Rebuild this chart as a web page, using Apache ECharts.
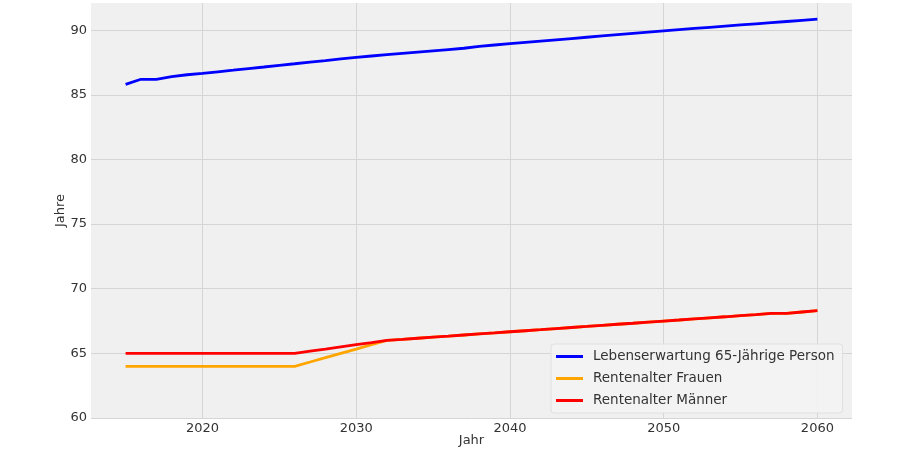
<!DOCTYPE html>
<html>
<head>
<meta charset="utf-8">
<script src="https://cdn.jsdelivr.net/npm/echarts@6/dist/echarts.min.js"></script>
<style>
  html, body { margin: 0; padding: 0; background: #fff; }
  #chart { width: 900px; height: 451px; }
</style>
</head>
<body>
<div id="chart"></div>
<script>
// years 2015 .. 2060
const years = [];
for (let y = 2015; y <= 2060; y++) years.push(y);

const lebenserwartung = [
  85.8, 86.2, 86.2, 86.4, 86.55, 86.65, 86.78, 86.9, 87.03, 87.15,
  87.28, 87.4, 87.53, 87.65, 87.78, 87.9, 88.0, 88.1, 88.2, 88.3,
  88.4, 88.5, 88.6, 88.75, 88.85, 88.95, 89.05, 89.15, 89.25, 89.35,
  89.45, 89.55, 89.65, 89.75, 89.85, 89.95, 90.04, 90.13, 90.22, 90.31,
  90.4, 90.49, 90.58, 90.67, 90.76, 90.85
];
const rentenalterFrauen = [
  64, 64, 64, 64, 64, 64, 64, 64, 64, 64,
  64, 64, 64.33, 64.67, 65.0, 65.33, 65.67, 66.0, 66.08, 66.17,
  66.25, 66.33, 66.42, 66.5, 66.58, 66.67, 66.75, 66.83, 66.92, 67.0,
  67.08, 67.17, 67.25, 67.33, 67.42, 67.5, 67.58, 67.67, 67.75, 67.83,
  67.92, 68.0, 68.1, 68.1, 68.2, 68.3
];
const rentenalterMaenner = [
  65, 65, 65, 65, 65, 65, 65, 65, 65, 65,
  65, 65, 65.17, 65.33, 65.5, 65.67, 65.83, 66.0, 66.08, 66.17,
  66.25, 66.33, 66.42, 66.5, 66.58, 66.67, 66.75, 66.83, 66.92, 67.0,
  67.08, 67.17, 67.25, 67.33, 67.42, 67.5, 67.58, 67.67, 67.75, 67.83,
  67.92, 68.0, 68.1, 68.1, 68.2, 68.3
];

const xTicks = [2020, 2030, 2040, 2050, 2060];
const yTicks = [60, 65, 70, 75, 80, 85, 90];

const font = 'DejaVu Sans';
const pairs = arr => years.map((y, i) => [y, arr[i]]);

const chart = echarts.init(document.getElementById('chart'));

chart.setOption({
  backgroundColor: '#ffffff',
  animation: false,
  textStyle: { fontFamily: font },
  grid: {
    left: 91, right: 48, top: 3, bottom: 33,
    outerBoundsMode: 'none', containLabel: false,
    show: true, backgroundColor: '#f0f0f0', borderWidth: 0
  },
  xAxis: {
    type: 'value',
    min: 2012.75, max: 2062.25,
    name: 'Jahr', nameLocation: 'middle', nameGap: 16, nameMoveOverlap: false,
    nameTextStyle: { fontFamily: font, fontSize: 13, color: '#333' },
    axisLine: { show: false },
    axisTick: { show: false, customValues: xTicks },
    axisLabel: {
      customValues: xTicks, fontFamily: font, fontSize: 13, color: '#333', margin: 4,
      formatter: v => String(v)
    },
    splitLine: { show: true, lineStyle: { color: '#d5d5d5', width: 1 } }
  },
  yAxis: {
    type: 'value',
    min: 60, max: 92.1,
    name: 'Jahre', nameLocation: 'middle', nameGap: 24, nameRotate: 90, nameMoveOverlap: false,
    nameTextStyle: { fontFamily: font, fontSize: 13, color: '#333' },
    axisLine: { show: false },
    axisTick: { show: false, customValues: yTicks },
    axisLabel: {
      customValues: yTicks, fontFamily: font, fontSize: 13, color: '#333', margin: 4,
      formatter: v => String(v)
    },
    splitLine: { show: true, lineStyle: { color: '#d5d5d5', width: 1 } }
  },
  legend: {
    orient: 'vertical',
    left: 551, top: 344,
    padding: [5, 8, 5, 5],
    itemGap: 7,
    itemWidth: 27, itemHeight: 3,
    icon: 'rect',
    backgroundColor: 'rgba(243,243,243,0.9)',
    borderColor: '#e0e0e0', borderWidth: 1, borderRadius: 3,
    textStyle: { fontFamily: font, fontSize: 13.5, color: '#333', lineHeight: 15, padding: [0, 0, 0, 5] },
    data: ['Lebenserwartung 65-Jährige Person', 'Rentenalter Frauen', 'Rentenalter Männer']
  },
  series: [
    {
      name: 'Lebenserwartung 65-Jährige Person', type: 'line',
      data: pairs(lebenserwartung), showSymbol: false,
      color: '#0000ff', lineStyle: { width: 2.8, color: '#0000ff' }
    },
    {
      name: 'Rentenalter Frauen', type: 'line',
      data: pairs(rentenalterFrauen), showSymbol: false,
      color: '#ffa500', lineStyle: { width: 2.8, color: '#ffa500' }
    },
    {
      name: 'Rentenalter Männer', type: 'line',
      data: pairs(rentenalterMaenner), showSymbol: false,
      color: '#ff0000', lineStyle: { width: 2.8, color: '#ff0000' }
    }
  ]
});
</script>
</body>
</html>
